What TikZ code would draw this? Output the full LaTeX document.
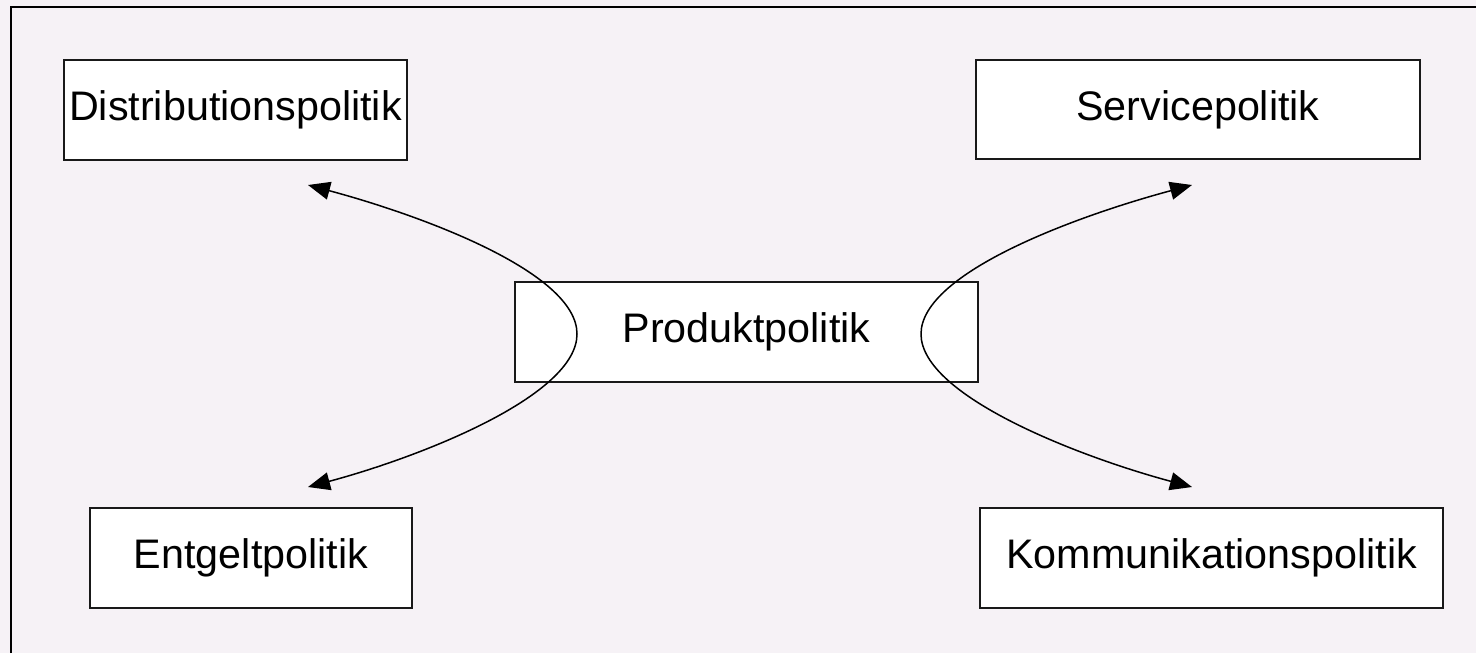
\documentclass[tikz,border=0pt]{standalone}
\usepackage{fontspec}
\setmainfont{Liberation Sans}
\usetikzlibrary{arrows.meta}
\definecolor{bgpink}{RGB}{246,242,246}
\begin{document}
\begin{tikzpicture}[x=0.02cm, y=-0.02cm,
    box/.style={draw=black!90, line width=0.04cm, fill=white, minimum height=2cm,
      inner sep=0pt, font=\fontsize{23.5}{28}\selectfont},
    link/.style={line width=0.03cm,
      {Triangle[length=0.44cm,width=0.36cm]}-{Triangle[length=0.44cm,width=0.36cm]}}]
  % Background and frame
  \fill[bgpink] (0,0) rectangle (1476,653);
  \useasboundingbox (0,0) rectangle (1476,653);
  \draw[line width=0.04cm] (11,653) -- (11,7) -- (1476,7);

  % Boxes
  \node[box, minimum width=6.86cm] (dist) at (235.5,110) {Distributionspolitik};
  \node[box, minimum width=8.88cm] (serv) at (1198,109.5) {Servicepolitik};
  \node[box, minimum width=9.26cm] (prod) at (746.5,331.75) {Produktpolitik};
  \node[box, minimum width=6.44cm] (entg) at (251,557.5) {Entgeltpolitik};
  \node[box, minimum width=9.26cm] (komm) at (1211.5,558) {Kommunikationspolitik};

  % Arrow ends
  \coordinate (disttip) at (308,185);
  \coordinate (entgtip) at (308,487);
  \coordinate (servtip) at (1192,185);
  \coordinate (kommtip) at (1192,487);

  % Left curve (Distribution <-> Entgelt, through Produkt)
  \draw[link] (disttip) .. controls (420,215) and (577,272) .. (577,334)
    .. controls (577,396) and (420,457) .. (entgtip);

  % Right curve (Service <-> Kommunikation, through Produkt)
  \draw[link] (servtip) .. controls (1080,215) and (921,272) .. (921,334)
    .. controls (921,396) and (1080,457) .. (kommtip);
\end{tikzpicture}
\end{document}
